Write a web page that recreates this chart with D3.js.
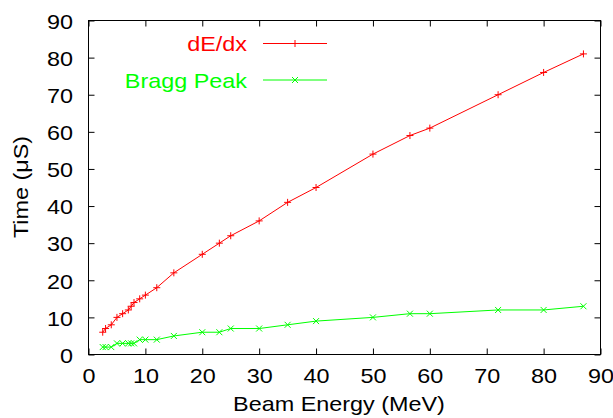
<!DOCTYPE html>
<html>
<head>
<meta charset="utf-8">
<script src="https://cdn.jsdelivr.net/npm/d3@7"></script>
<style>
  body { margin: 0; background: #fff; }
  text { font-family: "Liberation Sans", Arial, Helvetica, sans-serif; }
</style>
</head>
<body>
<script>

// beam energy (MeV) and measured times (uS)
var energy    = [2.5, 3, 4, 5, 6, 7, 7.5, 8, 9, 10, 12, 15, 20, 23, 25, 30, 35, 40, 50, 56.5, 60, 72, 80, 87];
var dedxTime  = [6, 7, 8, 10, 11, 12, 13, 14, 15, 16, 18, 22, 27, 30, 32, 36, 41, 45, 54, 59, 61, 70, 76, 81];
var braggTime = [2, 2, 2, 3, 3, 3, 3, 3, 4, 4, 4, 5, 6, 6, 7, 7, 8, 9, 10, 11, 11, 12, 12, 13];

var xTicks = [0, 10, 20, 30, 40, 50, 60, 70, 80, 90];
var yTicks = [0, 10, 20, 30, 40, 50, 60, 70, 80, 90];

var seriesNames  = ["dE/dx", "Bragg Peak"];
var seriesColors = ["#ff0000", "#00ff00"];

var W = 613, H = 418;
var fontSize = 20, stretch = 1.17;   // the original font is drawn a bit wide

var svg = d3.select("body").append("svg")
    .attr("width", W)
    .attr("height", H);

// setup scales
var x = d3.scaleLinear().domain([0, 90]).range([88.5, 600.5]);
var y = d3.scaleLinear().domain([0, 90]).range([354.5, 20.5]);

// inward ticks on all four sides (gnuplot style)
var bottom = svg.append("g")
    .attr("transform", "translate(0," + y(0) + ")")
    .call(d3.axisBottom(x).tickValues(xTicks).tickSize(-6).tickFormat(d3.format("d")));
bottom.selectAll("text")
    .attr("y", 29).attr("dy", null)
    .attr("transform", "scale(" + stretch + ",1)");

svg.append("g")
    .attr("transform", "translate(0," + y(90) + ")")
    .call(d3.axisTop(x).tickValues(xTicks).tickSize(-6).tickFormat(""));

var left = svg.append("g")
    .attr("transform", "translate(" + x(0) + ",0)")
    .call(d3.axisLeft(y).tickValues(yTicks).tickSize(-6).tickFormat(d3.format("d")));
left.selectAll("text")
    .attr("x", -15.5 / stretch).attr("dy", null).attr("y", 7.8)
    .attr("transform", "scale(" + stretch + ",1)");

svg.append("g")
    .attr("transform", "translate(" + x(90) + ",0)")
    .call(d3.axisRight(y).tickValues(yTicks).tickSize(-6).tickFormat(""));

svg.selectAll(".domain").remove();
svg.selectAll(".tick line").attr("stroke", "#000");
svg.selectAll(".tick text")
    .attr("fill", "#000")
    .style("font-size", fontSize + "px")
    .style("font-family", "'Liberation Sans', Arial, sans-serif");

// frame
svg.append("rect")
    .attr("x", x(0)).attr("y", y(90))
    .attr("width", x(90) - x(0)).attr("height", y(0) - y(90))
    .attr("fill", "none").attr("stroke", "#000").attr("stroke-width", 1);

// stretched text helper
function label(px, py, str, anchor, color, rot) {
  svg.append("text")
      .attr("transform", "translate(" + px + "," + py + ")" + (rot ? " rotate(" + rot + ")" : "") + " scale(" + stretch + ",1)")
      .attr("text-anchor", anchor)
      .attr("fill", color)
      .style("font-size", fontSize + "px")
      .text(str);
}

// axis titles
label(339, 411, "Beam Energy (MeV)", "middle", "#000");
label(27.5, 187, "Time (\u03bcS)", "middle", "#000", -90);

// markers
function plus(g, cx, cy, c) {
  g.append("path").attr("d", "M" + (cx - 3.5) + "," + cy + "H" + (cx + 3.5) + "M" + cx + "," + (cy - 3.5) + "V" + (cy + 3.5))
      .attr("stroke", c).attr("fill", "none");
}
function cross(g, cx, cy, c) {
  g.append("path").attr("d", "M" + (cx - 3) + "," + (cy - 3) + "L" + (cx + 3) + "," + (cy + 3) + "M" + (cx - 3) + "," + (cy + 3) + "L" + (cx + 3) + "," + (cy - 3))
      .attr("stroke", c).attr("fill", "none");
}

var series = [dedxTime, braggTime];
var markers = [plus, cross];

var line = d3.line()
    .x(function(d) { return x(d[0]); })
    .y(function(d) { return y(d[1]); });

series.forEach(function(vals, i) {
  var pts = energy.map(function(e, j) { return [e, vals[j]]; });
  var g = svg.append("g");
  g.append("path")
      .datum(pts)
      .attr("d", line)
      .attr("fill", "none")
      .attr("stroke", seriesColors[i])
      .attr("stroke-width", 1);
  pts.forEach(function(p) { markers[i](g, x(p[0]), y(p[1]), seriesColors[i]); });

  // legend
  var ly = 43.5 + i * 36.5;
  label(247, ly + 7.5, seriesNames[i], "end", seriesColors[i]);
  g.append("line")
      .attr("x1", 263).attr("x2", 327).attr("y1", ly).attr("y2", ly)
      .attr("stroke", seriesColors[i]);
  markers[i](g, 295, ly, seriesColors[i]);
});

</script>
</body>
</html>
